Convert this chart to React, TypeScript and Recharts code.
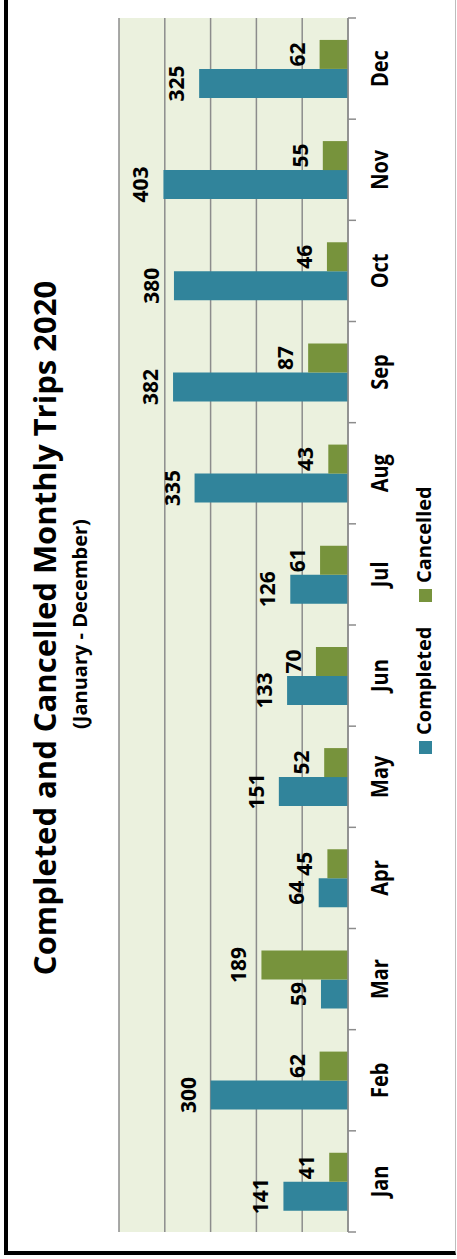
import { BarChart, Bar, XAxis, YAxis, CartesianGrid, LabelList } from 'recharts';

// monthly trip counts for 2020
const months = ['Jan', 'Feb', 'Mar', 'Apr', 'May', 'Jun', 'Jul', 'Aug', 'Sep', 'Oct', 'Nov', 'Dec'];
const completed = [141, 300, 59, 64, 151, 133, 126, 335, 382, 380, 403, 325];
const cancelled = [41, 62, 189, 45, 52, 70, 61, 43, 87, 46, 55, 62];
const valueTicks = [0, 100, 200, 300, 400, 500];

const data = months.map((month, i) => ({ month, completed: completed[i], cancelled: cancelled[i] }));

const FONT = "'Open Sans', sans-serif";
const BLUE = '#31849B';
const GREEN = '#77933C';
const GRID = '#8c8c8c';

// The chart is laid out normally and then turned a quarter turn counter-clockwise.
const W = 1259;
const H = 457;

// month label plus a tick mark on the category boundaries (not the centres)
const MonthTick = (props: any) => {
  const { x, y, payload, index, visibleTicksCount } = props;
  const half = payload.offset ?? 0;
  const last = index === visibleTicksCount - 1;
  return (
    <g>
      <line x1={x - half} x2={x - half} y1={y} y2={y + 8} stroke={GRID} strokeWidth={1.5} />
      {last && <line x1={x + half} x2={x + half} y1={y} y2={y + 8} stroke={GRID} strokeWidth={1.5} />}
      <text
        transform={`translate(${x}, ${y + 40}) scale(1, 1.2)`}
        textAnchor="middle"
        fontFamily={FONT}
        fontWeight={700}
        fontSize={20}
        fill="#000"
      >
        {payload.value}
      </text>
    </g>
  );
};

const labelStyle = { fontFamily: FONT, fontWeight: 700, fontSize: 21, fill: '#000' };

export default function App() {
  return (
    <div style={{ position: 'fixed', left: 0, top: 0, width: H, height: W, overflow: 'hidden', background: '#fff' }}>
      <div
        style={{
          position: 'absolute',
          left: 4,
          top: -10,
          width: 452,
          height: 1265,
          boxSizing: 'border-box',
          borderLeft: '4px solid #000',
          borderBottom: '4px solid #000',
          borderRight: '1px solid #bdbdbd',
        }}
      />
      <div
        style={{
          position: 'absolute',
          left: 0,
          top: 0,
          width: W,
          height: H,
          transformOrigin: '0 0',
          transform: `translate(0px, ${W}px) rotate(-90deg)`,
        }}
      >
        <BarChart
          width={W}
          height={H}
          data={data}
          margin={{ top: 119, right: 18, bottom: 49, left: 27 }}
          barCategoryGap="21%"
          barGap={0}
        >
          <CartesianGrid vertical={false} fill="#EBF1DE" fillOpacity={1} stroke={GRID} strokeWidth={1.5} />
          <XAxis
            dataKey="month"
            height={60}
            tickLine={false}
            tickSize={0}
            tickMargin={0}
            axisLine={{ stroke: GRID, strokeWidth: 1.5 }}
            tick={<MonthTick />}
            interval={0}
          />
          <YAxis hide domain={[0, 500]} ticks={valueTicks} />
          <Bar dataKey="completed" fill={BLUE} isAnimationActive={false}>
            <LabelList dataKey="completed" position="top" offset={15} {...labelStyle} />
          </Bar>
          <Bar dataKey="cancelled" fill={GREEN} isAnimationActive={false}>
            <LabelList dataKey="cancelled" position="top" offset={15} {...labelStyle} />
          </Bar>
        </BarChart>
        <svg width={W} height={H} style={{ position: 'absolute', left: 0, top: 0, pointerEvents: 'none' }}>
          <text x={631} y={56} textAnchor="middle" fontFamily={FONT} fontWeight={700} fontSize={31} fill="#000">
            Completed and Cancelled Monthly Trips 2020
          </text>
          <text x={635} y={87} textAnchor="middle" fontFamily={FONT} fontWeight={700} fontSize={20} fill="#000">
            (January - December)
          </text>
          <rect x={505} y={419} width={13} height={13} fill={BLUE} />
          <text x={524} y={431} fontFamily={FONT} fontWeight={700} fontSize={20} fill="#000">
            Completed
          </text>
          <rect x={657} y={419} width={13} height={13} fill={GREEN} />
          <text x={676} y={431} fontFamily={FONT} fontWeight={700} fontSize={20} fill="#000">
            Cancelled
          </text>
        </svg>
      </div>
    </div>
  );
}
